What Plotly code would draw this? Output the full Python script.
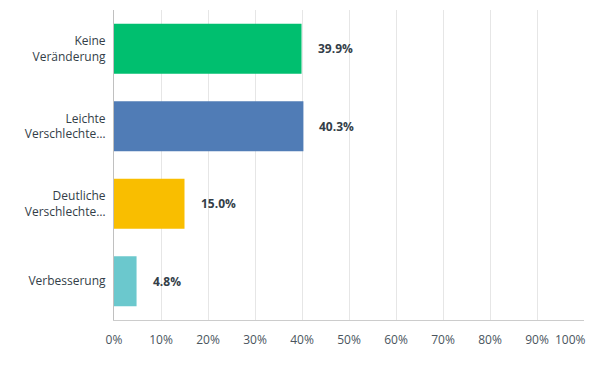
import plotly.graph_objects as go

categories = ["Keine<br>Veränderung", "Leichte<br>Verschlechte…", "Deutliche<br>Verschlechte…", "Verbesserung"]
values = [39.9, 40.3, 15.0, 4.8]
labels = ["39.9%", "40.3%", "15.0%", "4.8%"]
colors = ["#00bf6f", "#507cb6", "#f9be00", "#6bc8cd"]
tick_vals = [0, 10, 20, 30, 40, 50, 60, 70, 80, 90, 100]
tick_text = ["0%", "10%", "20%", "30%", "40%", "50%", "60%", "70%", "80%", "90%", "100%"]

font_family = "'Open Sans', Roboto, sans-serif"
txt_color = "#333e48"

fig = go.Figure()
fig.add_trace(go.Bar(
    x=values, y=categories, orientation="h",
    marker=dict(color=colors, line=dict(width=0)),
    width=0.645, hoverinfo="skip",
))

for v, c, t in zip(values, categories, labels):
    fig.add_annotation(x=v, y=c, text="<b>" + t + "</b>", showarrow=False,
                       xanchor="left", xshift=14,
                       font=dict(family=font_family, size=12, color=txt_color))

# last tick label is shifted left to stay inside the page
fig.add_annotation(x=tick_vals[-1], xref="x", y=0, yref="paper", yanchor="top",
                   yshift=-9, xanchor="right", xshift=4, text=tick_text[-1],
                   showarrow=False, font=dict(family=font_family, size=12, color="#4a555e"))

# the page body has an 8px default margin, so the figure is sized/offset to compensate
fig.update_layout(
    width=586, height=374,
    margin=dict(l=106, r=10, t=2, b=62),
    paper_bgcolor="white", plot_bgcolor="white",
    showlegend=False,
    font=dict(family=font_family, size=12, color=txt_color),
    xaxis=dict(range=[0, 100], tickvals=tick_vals,
               ticktext=tick_text[:-1] + [""],
               showgrid=True, gridcolor="#e6e6e6", gridwidth=1,
               zeroline=False, showline=True, linecolor="#cccccc", linewidth=1,
               ticks="", ticklabelstandoff=9, fixedrange=True, automargin=False,
               tickfont=dict(size=12, color="#4a555e")),
    yaxis=dict(autorange="reversed", showgrid=False, zeroline=False,
               showline=True, linecolor="#c0c0c0", linewidth=1,
               ticks="", ticklabelstandoff=5, automargin=False,
               tickfont=dict(size=12, color=txt_color)),
)

fig.write_html("out.html")
